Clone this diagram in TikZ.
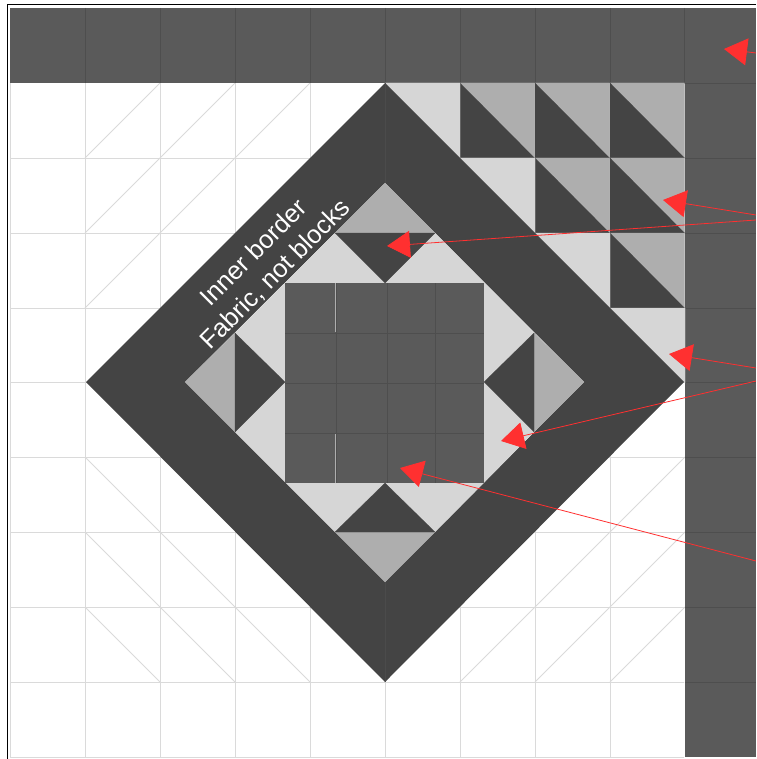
\documentclass[tikz,border=0pt]{standalone}
\usepackage{fontspec}
\setmainfont{Liberation Sans}
\usetikzlibrary{arrows.meta}
\definecolor{fondo}{RGB}{90,90,90}
\definecolor{oscuro}{RGB}{68,68,68}
\definecolor{medio}{RGB}{174,174,174}
\definecolor{claro}{RGB}{214,214,214}
\definecolor{rejilla}{RGB}{218,218,218}
\definecolor{rejband}{RGB}{78,78,78}
\definecolor{rojo}{RGB}{255,48,48}
\tikzset{
  marco/.style={draw=black, line width=1pt},
  fina/.style={draw=rejilla, line width=0.8pt},
  finab/.style={draw=rejband, line width=0.7pt},
  pieza/.style={draw=#1, fill=#1, line width=0.2pt},
  fl/.style={-{Triangle[length=23pt,width=27pt]}, rojo, line width=0.8pt},
  et/.style={text=white, align=center, rotate=45, font=\fontsize{25.5}{31}\selectfont, inner sep=0pt},
}
\begin{document}
\begin{tikzpicture}[x=1pt,y=-1pt]
  \useasboundingbox (0,0) rectangle (756,759);
  \fill[white] (0,0) rectangle (756,759);
  \draw[marco] (756,4.5) -- (7,4.5) -- (7,759);
  % pale grid
  \foreach \gx in {10,85,160,235,310,385,460,535,610}
    \draw[fina] (\gx,83) -- (\gx,757);
  \foreach \gy in {158,233,308,382,457,532,607,682,757}
    \draw[fina] (10,\gy) -- (684,\gy);
  \foreach \ax/\ay in {85/158,160/158,235/158,85/233,160/233,85/308}
    \draw[fina] (\ax,\ay) -- ++(75,-75);
  \foreach \ax/\ay in {85/457,85/532,160/532,85/607,160/607,235/607}
    \draw[fina] (\ax,\ay) -- ++(75,75);
  \foreach \ax/\ay in {610/457,535/532,460/607,610/532,535/607,610/607}
    \draw[fina] (\ax,\ay+75) -- ++(75,-75);
  % outer bands
  \fill[fondo] (10,8) rectangle (756,83);
  \fill[fondo] (684.5,83) rectangle (756,757);
  \foreach \gx in {85,160,235,310,385,460,535,610,684}
    \draw[finab] (\gx,8) -- (\gx,83);
  \draw[finab] (684,83) -- (756,83);
  \foreach \gy in {158,233,308,382,457,532,607,682}
    \draw[finab] (684.5,\gy) -- (756,\gy);
  % corner triangles
  \foreach \cx/\cy in {460/83,535/83,610/83,535/158,610/158,610/233} {
    \fill[pieza=medio] (\cx,\cy) -- ++(74.5,0) -- ++(0,75) -- cycle;
    \fill[pieza=oscuro] (\cx,\cy) -- ++(0,75) -- ++(74.5,0) -- cycle;
  }
  \foreach \cx/\cy in {385/83,460/158,535/233,610/308}
    \fill[pieza=claro] (\cx,\cy) -- ++(75,0) -- ++(0,75) -- cycle;
  % diamond
  \fill[oscuro, even odd rule] (385,83) -- (684,382) -- (385,682) -- (86,382) -- cycle
    (385,183) -- (584,382) -- (385,582) -- (185,382) -- cycle;
  \draw[draw=rejband!70!oscuro, line width=0.5pt] (385,83) -- (385,183) (385,582) -- (385,682);
  % centre
  \fill[pieza=claro] (335,233) -- (435,233) -- (534,333) -- (534,432) -- (435,532) -- (335,532) -- (235,432) -- (235,333) -- cycle;
  \fill[pieza=medio] (385,183) -- (435,233) -- (335,233) -- cycle;
  \fill[pieza=oscuro] (335,233) -- (435,233) -- (385,283) -- cycle;
  \fill[pieza=medio] (185,382) -- (235,333) -- (235,432) -- cycle;
  \fill[pieza=oscuro] (235,333) -- (285,382) -- (235,432) -- cycle;
  \fill[pieza=medio] (584,382) -- (534,333) -- (534,432) -- cycle;
  \fill[pieza=oscuro] (534,333) -- (484,382) -- (534,432) -- cycle;
  \fill[pieza=medio] (385,582) -- (435,532) -- (335,532) -- cycle;
  \fill[pieza=oscuro] (335,532) -- (435,532) -- (385,483) -- cycle;
  \fill[fondo] (285,283) rectangle (484,483);
  \foreach \gx in {336,387,435}
    \draw[finab] (\gx,283) -- (\gx,483);
  \foreach \gy in {333,383,433}
    \draw[finab] (285,\gy) -- (484,\gy);
  \draw[medio, line width=1.6pt] (335.5,283) -- (335.5,332) (335.5,434) -- (335.5,483);
  \node[et] (rotulo) at (265,264) {Inner border\\Fabric, not blocks};
  % red arrows
  \coordinate (t1) at (724,49);  \coordinate (o1) at (756,53);
  \coordinate (t2) at (663,200); \coordinate (o2) at (756,215);
  \coordinate (t3) at (387,246); \coordinate (o3) at (756,220);
  \coordinate (t4) at (669,354); \coordinate (o4) at (756,368);
  \coordinate (t5) at (501,441); \coordinate (o5) at (756,381);
  \coordinate (t6) at (400,468); \coordinate (o6) at (756,561);
  \draw[fl] (o1) -- (t1);
  \draw[fl] (o2) -- (t2);
  \draw[fl] (o3) -- (t3);
  \draw[fl] (o4) -- (t4);
  \draw[fl] (o5) -- (t5);
  \draw[fl] (o6) -- (t6);
\end{tikzpicture}
\end{document}
